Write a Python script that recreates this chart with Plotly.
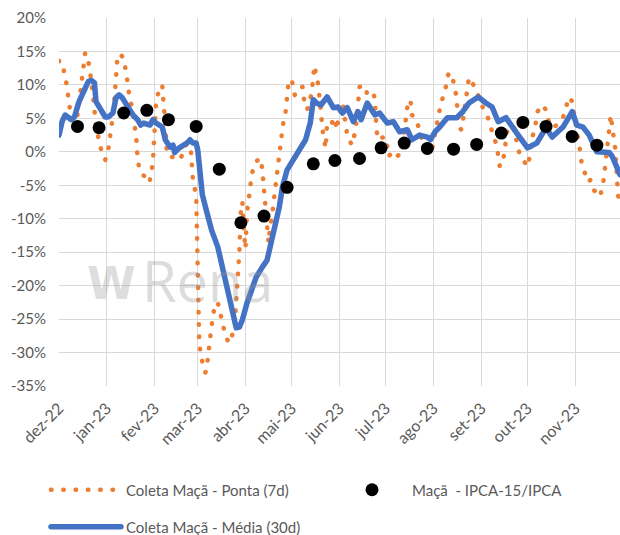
import pandas as pd
import plotly.graph_objects as go

BASE = pd.Timestamp("2022-12-01")

# Coleta Maçã - Ponta (7d): day offset from 2022-12-01 and value (%)
ponta_days = [0, 1, 3, 5, 7, 9, 11, 13, 15, 17, 19, 20, 22, 24, 26, 28, 30,
              32, 34, 35, 37, 38, 40, 42, 44, 45, 47, 48, 49, 50, 51, 52, 54, 56, 57, 59, 60, 61,
              62, 63, 65, 67, 68, 69, 70, 73, 75, 77, 79, 81, 84, 85, 86, 87, 89,
              90, 91, 92, 94, 95, 96, 97, 99, 101, 103, 105, 107, 110, 112, 114, 115, 116, 117, 118, 119, 120,
              121, 122, 123, 124, 125, 127, 129, 131, 132, 133, 134, 135, 136, 137, 138, 139, 140, 141, 142,
              143, 144, 145, 146, 147, 149,
              151, 153, 155, 158, 159, 161, 164, 165, 166, 167, 168, 169, 170, 171, 173, 174, 177, 179, 180,
              182, 184, 187, 190, 192, 193, 194, 195, 197, 199, 200, 202, 204, 205, 206, 207, 209,
              212, 214, 216, 219, 221, 223, 226, 228, 229, 232, 236, 238, 239, 242,
              245, 247, 249, 251, 252, 253, 255, 256, 257, 258, 259, 261, 262, 265, 266, 268, 270, 271,
              276, 279, 281, 284, 285, 286, 288, 289, 290, 291, 294, 296, 297, 299, 302,
              304, 305, 307, 309, 310, 313, 316, 318, 320, 323, 327, 329, 331, 333,
              336, 338, 339, 341, 343, 345, 347, 351, 353, 354, 355, 356, 357, 358, 359, 361, 362, 363]
ponta_vals = [13.6, 12.4, 12.3, 10.0, 6.5, 3.6, 3.6, 7.0, 11.0, 14.8, 13.5, 12.3, 8.5, 4.0, 1.5, -0.2, -1.2,
              0.3, 3.8, 5.2, 11.1, 14.5, 14.5, 14.0, 11.2, 9.3, 7.0, 5.2, 4.0, 2.5, -0.9, -2.4, -3.4, -3.7, -4.6, -4.2, -3.1, -1.2,
              3.0, 7.5, 9.3, 10.0, 6.7, 4.5, -0.4, -0.8, -0.7, -0.4, -0.9, 0.0, 2.2, 2.0, -1.2, -4.5, -6.4,
              -19.0, -28.5, -30.5, -32.0, -33.0, -32.0, -29.5, -26.0, -23.0, -22.5, -24.5, -26.5, -28.6, -27.7, -26.0, -23.0, -20.0, -15.0, -9.0, -7.5, -12.0,
              -14.5, -9.0, -6.5, -5.5, -3.4, -1.8, -1.2, -1.0, -3.0, -6.0, -9.5, -12.0, -13.6, -11.0, -10.0, -8.0, -6.0, -4.0, -1.5,
              0.5, 1.5, 3.5, 5.0, 6.0, 10.5,
              10.8, 8.5, 9.5, 9.7, 7.8, 6.3, 8.8, 11.5, 12.9, 11.0, 10.3, 8.2, 5.1, 3.3, 0.5, 4.5, 4.3, 5.1, 3.3,
              5.8, 7.3, 2.5, 1.0, 2.8, 4.5, 7.8, 9.7, 9.9, 9.7, 8.5, 8.8, 8.8, 7.8, 3.3, 1.8, 2.1,
              2.2, -0.7, 0.0, -0.7, -0.4, 1.3, 6.6, 7.8, 5.5, 4.8, 1.3, 0.3, -0.1, 0.3,
              4.5, 6.3, 8.1, 9.7, 11.2, 11.8, 11.5, 10.3, 8.8, 8.1, 4.0, 3.3, 4.5, 9.3, 11.1, 10.3, 9.7, 9.0,
              6.0, 4.8, 3.0, 1.0, -0.4, -2.2, -1.6, -0.1, 1.5, 3.3, 4.0, 3.3, 1.3, -0.4, -1.5,
              -2.2, -1.2, 2.1, 3.7, 5.8, 7.0, 6.3, 4.3, 3.6, 4.0, 5.1, 6.7, 8.2, 7.5,
              3.6, 0.3, -1.5, -3.0, -4.5, -4.2, -5.7, -6.7, -4.9, -3.0, -0.7, 2.1, 4.0, 5.5, 3.7, 0.3, -4.0, -7.0]

# Coleta Maçã - Média (30d)
media_days = [0, 2, 4, 8, 10, 13, 16, 19, 21, 23, 24, 26, 28, 30, 32, 35, 37, 39, 41, 45, 48, 51, 53, 55,
              59, 61, 63, 67, 69, 72, 74, 75, 78, 83, 85, 87, 89, 90, 91, 93, 96, 99, 103, 106, 109, 113,
              115, 117, 119, 122, 125, 128, 132, 135, 137, 140, 143, 145, 148, 152, 155, 158, 160, 163,
              165, 167, 170, 174, 178, 181, 184, 187, 191, 194, 196, 200, 205, 208, 213, 217, 221, 226,
              229, 234, 239, 241, 244, 247, 252, 258, 262, 266, 272, 277, 281, 285, 290, 297, 301, 304,
              310, 316, 320, 327, 333, 336, 340, 344, 349, 353, 357, 359, 364]
media_vals = [2.5, 4.5, 5.5, 4.8, 5.2, 7.5, 9.0, 10.5, 10.7, 10.3, 7.5, 6.7, 6.3, 5.2, 5.2, 5.8, 8.1, 8.5,
              8.1, 6.6, 5.5, 4.8, 4.0, 4.3, 4.0, 4.8, 4.3, 3.7, 1.8, 0.7, 1.0, -0.1, 0.6, 1.3, 1.8, 1.3,
              1.3, 0.3, -2.0, -6.4, -9.1, -11.7, -14.2, -17.2, -20.2, -23.7, -26.3, -26.2, -25.1, -22.6,
              -20.4, -18.7, -17.2, -16.2, -14.2, -11.2, -8.2, -5.2, -2.7, -1.2, -0.1, 1.3, 1.8, 4.3, 7.8,
              7.3, 7.0, 8.2, 6.6, 6.7, 5.8, 6.6, 4.5, 6.0, 4.8, 7.3, 5.5, 5.8, 4.3, 4.5, 3.0, 3.3, 1.8,
              2.5, 2.2, 1.8, 3.0, 3.7, 5.1, 5.1, 6.0, 7.3, 8.2, 7.3, 6.7, 4.5, 5.1, 2.8, 1.5, 0.6, 1.3,
              3.6, 2.2, 3.7, 6.0, 4.0, 3.7, 2.5, 0.0, -0.1, -0.1, -0.7, -3.4]

# Maçã - IPCA-15/IPCA
ipca_days = [12, 26, 42, 57, 71, 89, 104, 118, 133, 148, 165, 179, 195, 209, 224, 239, 256, 271,
             287, 301, 316, 333, 349]
ipca_vals = [3.8, 3.6, 5.8, 6.2, 4.8, 3.8, -2.6, -10.6, -9.6, -5.3, -1.8, -1.3, -1.0, 0.6, 1.3, 0.5,
             0.4, 1.1, 2.8, 4.4, 3.8, 2.3, 1.0]

month_starts = ["2022-12-01", "2023-01-01", "2023-02-01", "2023-03-01", "2023-04-01", "2023-05-01",
                "2023-06-01", "2023-07-01", "2023-08-01", "2023-09-01", "2023-10-01", "2023-11-01"]
month_labels = ["dez-22", "jan-23", "fev-23", "mar-23", "abr-23", "mai-23",
                "jun-23", "jul-23", "ago-23", "set-23", "out-23", "nov-23"]
ytick_vals = [-35, -30, -25, -20, -15, -10, -5, 0, 5, 10, 15, 20]
ytick_text = [f"{v}%" for v in ytick_vals]


def to_dates(days):
    return [BASE + pd.Timedelta(days=d) for d in days]


FONT = "Lato, 'Open Sans', sans-serif"
GRID = "#D9D9D9"
TXT = "#595959"
W, H = 620, 535

fig = go.Figure()
fig.add_trace(go.Scatter(
    x=to_dates(ponta_days), y=ponta_vals, mode="lines",
    name="Coleta Maçã - Ponta (7d)",
    line=dict(color="#ED7D31", width=4.5, dash="0.5px,11.8px"),
    legend="legend"))
fig.add_trace(go.Scatter(
    x=to_dates(media_days), y=media_vals, mode="lines",
    name="Coleta Maçã - Média (30d)",
    line=dict(color="#4472C4", width=5.5),
    legend="legend2"))
fig.add_trace(go.Scatter(
    x=to_dates(ipca_days), y=ipca_vals, mode="markers",
    name="Maçã\u00a0 - IPCA-15/IPCA",
    marker=dict(color="black", size=13),
    legend="legend3"))


def leg(x, y):
    return dict(orientation="h", xref="container", yref="container",
                x=x / W, y=1 - y / H, xanchor="left", yanchor="middle",
                itemwidth=70, bgcolor="rgba(0,0,0,0)",
                font=dict(family=FONT, size=15, color=TXT))


WM = "rgba(150,150,150,0.33)"

fig.update_layout(
    width=W, height=H,
    margin=dict(l=59, r=0, t=18, b=149, autoexpand=False),
    paper_bgcolor="white", plot_bgcolor="white",
    font=dict(family=FONT, size=15, color=TXT),
    xaxis=dict(type="date", range=["2022-12-01", "2023-11-30"], automargin=False,
               tickmode="array", tickvals=month_starts, ticktext=month_labels,
               tickangle=-45, showgrid=True, gridcolor=GRID, gridwidth=1.3,
               ticks="", ticklabelstandoff=9,
               zeroline=False, showline=False,
               tickfont=dict(family=FONT, size=16, color=TXT)),
    yaxis=dict(range=[-35, 20], tickmode="array", tickvals=ytick_vals, ticktext=ytick_text,
               automargin=False,
               showgrid=True, gridcolor=GRID, gridwidth=1.3, zeroline=False, showline=False,
               ticks="outside", ticklen=9, tickcolor="rgba(0,0,0,0)",
               tickfont=dict(family=FONT, size=15, color=TXT)),
    legend=leg(46, 490),
    legend3=leg(332, 490),
    legend2=leg(46, 527),
    showlegend=True,
    annotations=[
        dict(text="<b>W</b>", xref="paper", yref="paper", x=(85 - 59) / 561, y=(386 - 283) / 368,
             xanchor="left", yanchor="middle", showarrow=False,
             font=dict(family="DejaVu Sans", size=44, color=WM)),
        dict(text="Rena", xref="paper", yref="paper", x=(140 - 59) / 561, y=(386 - 280) / 368,
             xanchor="left", yanchor="middle", showarrow=False,
             font=dict(family="Open Sans", size=56, color=WM)),
    ],
)

post = ("document.body.style.margin='0';"
        "var s=document.createElement('style');"
        "s.textContent='.js-line{stroke-linecap:round;stroke-linejoin:round;}';"
        "document.head.appendChild(s);")
fig.write_html("out.html", post_script=post, config={"displayModeBar": False})
